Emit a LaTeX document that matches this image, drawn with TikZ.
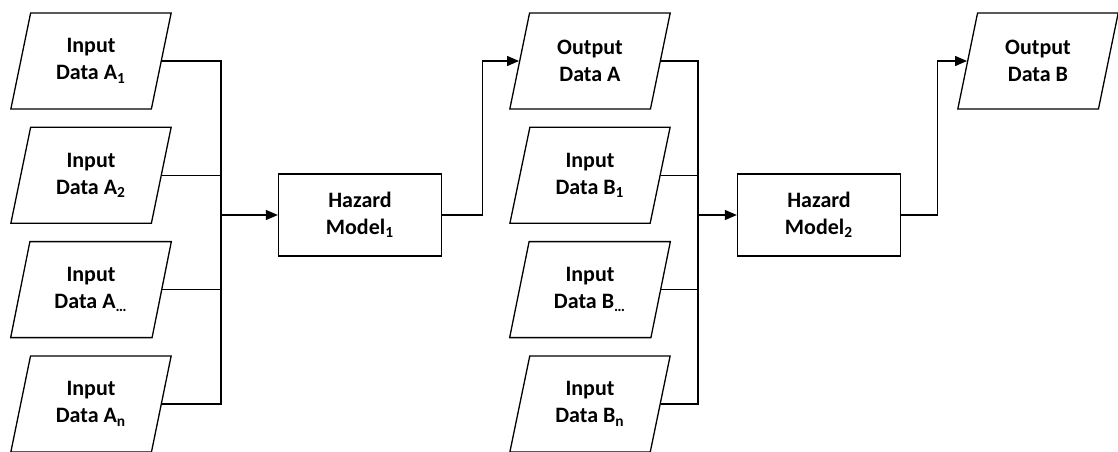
\documentclass[tikz,border=0pt]{standalone}
\usepackage{fontspec}
\setmainfont{Carlito}
\usetikzlibrary{positioning,arrows.meta,shapes.geometric}

\begin{document}
\begin{tikzpicture}[
    x=0.5pt, y=-0.5pt,
    node distance=8.5pt,
    line width=0.65pt,
    data node/.style={trapezium, trapezium left angle=76, trapezium right angle=104, trapezium stretches=true, draw, minimum width=80.5pt, minimum height=48pt, inner sep=1pt, align=center, font=\bfseries\fontsize{11}{13.5}\selectfont},
    model node/.style={rectangle, draw, minimum width=81.5pt, minimum height=41pt, align=center, font=\bfseries\fontsize{11}{13.5}\selectfont},
    flow/.style={-{Triangle[length=6pt,width=5pt]}}
]
  \useasboundingbox (0,0) rectangle (1118,451);

  \node[data node] (inA1) at (91,61) {Input\\Data A\textsubscript{1}};
  \node[data node] (inA2) [below=of inA1] {Input\\Data A\textsubscript{2}};
  \node[data node] (inAd) [below=of inA2] {Input\\Data A\textsubscript{…}};
  \node[data node] (inAn) [below=of inAd] {Input\\Data A\textsubscript{n}};
  \node[model node] (haz1) at (360,215) {Hazard\\Model\textsubscript{1}};

  \node[data node] (outA) at (590,61) {Output\\Data A};
  \node[data node] (inB1) [below=of outA] {Input\\Data B\textsubscript{1}};
  \node[data node] (inBd) [below=of inB1] {Input\\Data B\textsubscript{…}};
  \node[data node] (inBn) [below=of inBd] {Input\\Data B\textsubscript{n}};
  \node[model node] (haz2) at (819,215) {Hazard\\Model\textsubscript{2}};

  \node[data node] (outB) at (1038,61) {Output\\Data B};

  \coordinate (busA) at (221,215);
  \coordinate (busB) at (698,215);

  \foreach \n in {inA1,inA2,inAd,inAn}
    \draw (\n.right side) -| (busA);
  \draw[flow] (busA) -- (haz1);
  \draw[flow] (haz1.east) -- ++(40,0) |- (outA.left side);

  \foreach \n in {outA,inB1,inBd,inBn}
    \draw (\n.right side) -| (busB);
  \draw[flow] (busB) -- (haz2);
  \draw[flow] (haz2.east) -- ++(36,0) |- (outB.left side);
\end{tikzpicture}
\end{document}
